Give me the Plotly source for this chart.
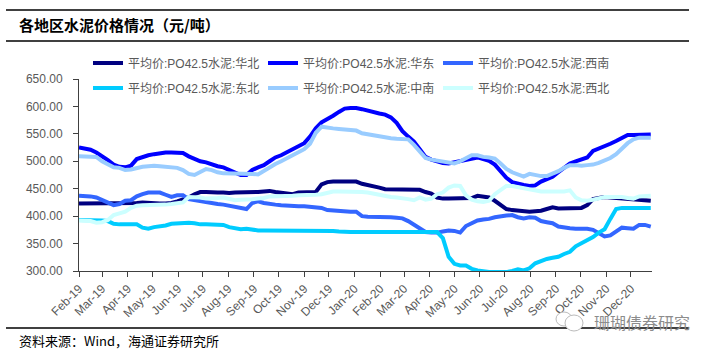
import pandas as pd
import plotly.graph_objects as go

# weekly observation dates
dates = pd.date_range(start="2019-02-01", periods=100, freq="7D")

series_names = [
    "平均价:PO42.5水泥:华北",
    "平均价:PO42.5水泥:华东",
    "平均价:PO42.5水泥:西南",
    "平均价:PO42.5水泥:东北",
    "平均价:PO42.5水泥:中南",
    "平均价:PO42.5水泥:西北",
]

huabei = [423, 423, 423, 423, 423, 423, 423, 423, 423, 423,
          424, 425, 424, 423, 423, 423, 424, 427, 430, 434,
          440, 444, 444, 443, 443, 443, 442, 443, 443, 443,
          443, 444, 445, 446, 444, 443, 442, 440, 443, 443,
          443, 444, 458, 462, 463, 463, 464, 464, 463, 459,
          457, 455, 452, 449, 449, 449, 449, 449, 449, 448,
          444, 441, 434, 432, 432, 432, 432, 432, 433, 437,
          436, 434, 428, 420, 413, 411, 410, 409, 408, 409,
          410, 413, 416, 414, 414, 414, 415, 415, 420, 431,
          433, 435, 434, 433, 432, 431, 430, 429, 428, 428]

huadong = [525, 523, 521, 516, 510, 502, 494, 490, 489, 492,
           504, 508, 511, 513, 515, 516, 516, 516, 515, 509,
           504, 500, 498, 494, 491, 489, 484, 478, 475, 475,
           484, 489, 493, 500, 507, 511, 516, 522, 527, 533,
           545, 560, 571, 576, 583, 590, 596, 597, 597, 595,
           592, 590, 587, 585, 580, 570, 555, 545, 536, 522,
           508, 503, 500, 497, 496, 498, 501, 503, 505, 507,
           504, 501, 494, 482, 470, 462, 459, 457, 455, 456,
           463, 468, 472, 480, 488, 496, 500, 503, 507, 519,
           523, 527, 532, 537, 543, 548, 548, 548, 548, 549]

xinan = [437, 437, 436, 434, 429, 424, 420, 422, 428, 429,
         436, 440, 443, 443, 443, 439, 435, 438, 438, 431,
         429, 428, 426, 424, 422, 421, 419, 417, 415, 413,
         424, 427, 424, 422, 421, 420, 419, 419, 418, 418,
         417, 416, 415, 411, 410, 409, 408, 408, 408, 400,
         399, 399, 398, 398, 398, 397, 396, 391, 384, 376,
         371, 370, 370, 372, 374, 373, 370, 382, 388, 392,
         394, 395, 398, 400, 401, 402, 398, 396, 398, 397,
         391, 389, 387, 381, 379, 378, 377, 377, 377, 375,
         369, 363, 365, 372, 379, 378, 377, 384, 384, 381]

dongbei = [393, 393, 393, 393, 392, 391, 386, 385, 385, 385,
           385, 379, 377, 380, 381, 383, 386, 387, 388, 388,
           387, 385, 385, 385, 385, 384, 380, 378, 376, 377,
           375, 374, 374, 374, 374, 374, 374, 374, 374, 374,
           374, 374, 374, 373, 373, 372, 371, 371, 371, 371,
           371, 371, 371, 371, 371, 371, 371, 371, 371, 371,
           371, 371, 371, 360, 326, 313, 310, 310, 304, 301,
           299, 298, 298, 298, 298, 300, 303, 301, 305, 314,
           318, 322, 324, 326, 331, 335, 345, 350, 357, 362,
           370, 376, 395, 413, 415, 415, 415, 415, 415, 415]

zhongnan = [509, 509, 509, 508, 500, 494, 489, 488, 484, 485,
            488, 490, 491, 492, 491, 490, 490, 488, 484, 477,
            475, 480, 486, 484, 480, 478, 478, 478, 478, 477,
            477, 476, 483, 490, 495, 500, 506, 510, 516, 522,
            532, 552, 563, 561, 560, 559, 558, 557, 556, 551,
            549, 547, 545, 543, 542, 541, 541, 540, 530, 518,
            506, 503, 501, 499, 497, 496, 500, 506, 511, 511,
            508, 507, 505, 496, 486, 480, 476, 472, 477, 475,
            473, 473, 477, 482, 488, 493, 493, 492, 493, 494,
            497, 501, 506, 513, 523, 533, 540, 543, 543, 543]

xibei = [392, 392, 391, 388, 389, 393, 402, 405, 408, 415,
         419, 420, 420, 420, 421, 421, 422, 423, 425, 435,
         435, 434, 432, 432, 433, 434, 432, 429, 430, 430,
         431, 432, 433, 436, 436, 436, 437, 437, 438, 438,
         439, 439, 440, 443, 445, 445, 445, 445, 445, 444,
         443, 441, 439, 436, 435, 434, 433, 431, 429, 434,
         430, 432, 440, 443, 452, 456, 455, 438, 430, 427,
         426, 428, 440, 448, 455, 455, 453, 451, 448, 446,
         445, 445, 445, 445, 445, 447, 434, 429, 428, 430,
         432, 435, 435, 435, 435, 433, 432, 436, 437, 437]

all_values = [huabei, huadong, xinan, dongbei, zhongnan, xibei]
colors = ["#000080", "#0000FF", "#3366FF", "#00CCFF", "#99CCFF", "#CCFFFF"]
legend_ids = ["legend", "legend", "legend", "legend2", "legend2", "legend2"]

W, H = 714, 354
ML, MR, MT, MB = 79, 62, 79, 83
PW, PH = W - ML - MR, H - MT - MB


def px_x(px):
    return (px - ML) / PW


def px_y(py):
    return (H - MB - py) / PH


fig = go.Figure()
for name, vals, col, lg in zip(series_names, all_values, colors, legend_ids):
    fig.add_trace(go.Scatter(
        x=dates, y=vals, name=name, mode="lines",
        line=dict(color=col, width=4), legend=lg,
    ))

base_font = "Liberation Sans, Arial, Noto Sans CJK SC, sans-serif"
legend_common = dict(
    orientation="h", entrywidth=130, entrywidthmode="pixels",
    font=dict(family=base_font, size=12, color="#595959"),
    bgcolor="rgba(0,0,0,0)", borderwidth=0,
    xanchor="left", yanchor="middle", traceorder="normal",
)

fig.update_layout(
    width=W, height=H,
    margin=dict(l=ML, r=MR, t=MT, b=MB, autoexpand=False),
    paper_bgcolor="white", plot_bgcolor="white",
    showlegend=True,
    legend=dict(x=px_x(88), y=px_y(63), **legend_common),
    legend2=dict(x=px_x(88), y=px_y(88), **legend_common),
    xaxis=dict(
        type="date", range=["2019-02-01", "2020-12-26 12:00"],
        tick0="2019-02-01", dtick="M1", tickformat="%b-%y", tickangle=-45,
        showgrid=False, zeroline=False,
        showline=True, linecolor="#404040", linewidth=1,
        ticks="outside", ticklen=5, tickcolor="#404040",
        tickfont=dict(family=base_font, size=12, color="#595959"),
    ),
    yaxis=dict(
        range=[300, 650], dtick=50, tickformat=".2f",
        showgrid=False, zeroline=False,
        showline=True, linecolor="#404040", linewidth=1,
        ticks="outside", ticklen=5, tickcolor="#404040",
        ticklabelstandoff=8,
        tickfont=dict(family=base_font, size=12, color="#595959"),
    ),
)

# rules
for py in (10, 41, 328):
    fig.add_shape(type="line", xref="paper", yref="paper",
                  x0=px_x(6), x1=px_x(689), y0=px_y(py), y1=px_y(py),
                  line=dict(color="black", width=1.5))

fig.add_annotation(
    text="<b>各地区水泥价格情况（元/吨）</b>", xref="paper", yref="paper",
    x=px_x(17), y=px_y(24), xanchor="left", yanchor="middle", showarrow=False,
    font=dict(family="Noto Sans CJK SC", size=15, color="black"),
)
fig.add_annotation(
    text="资料来源：Wind，海通证券研究所", xref="paper", yref="paper",
    x=px_x(17), y=px_y(340), xanchor="left", yanchor="middle", showarrow=False,
    font=dict(family="Noto Sans CJK SC", size=13, color="black"),
)
# watermark
fig.add_shape(type="circle", xref="paper", yref="paper",
              x0=px_x(556), x1=px_x(572), y0=px_y(326), y1=px_y(312),
              line=dict(color="#BBBBBB", width=1), fillcolor="white")
fig.add_shape(type="circle", xref="paper", yref="paper",
              x0=px_x(565), x1=px_x(583), y0=px_y(331), y1=px_y(315),
              line=dict(color="#BBBBBB", width=1), fillcolor="white")
fig.add_annotation(
    text="珊瑚债券研究", xref="paper", yref="paper",
    x=px_x(592), y=px_y(322), xanchor="left", yanchor="middle", showarrow=False,
    font=dict(family="Noto Sans CJK SC", size=16, color="#8C8C8C"),
)

fig.write_html("out.html")
